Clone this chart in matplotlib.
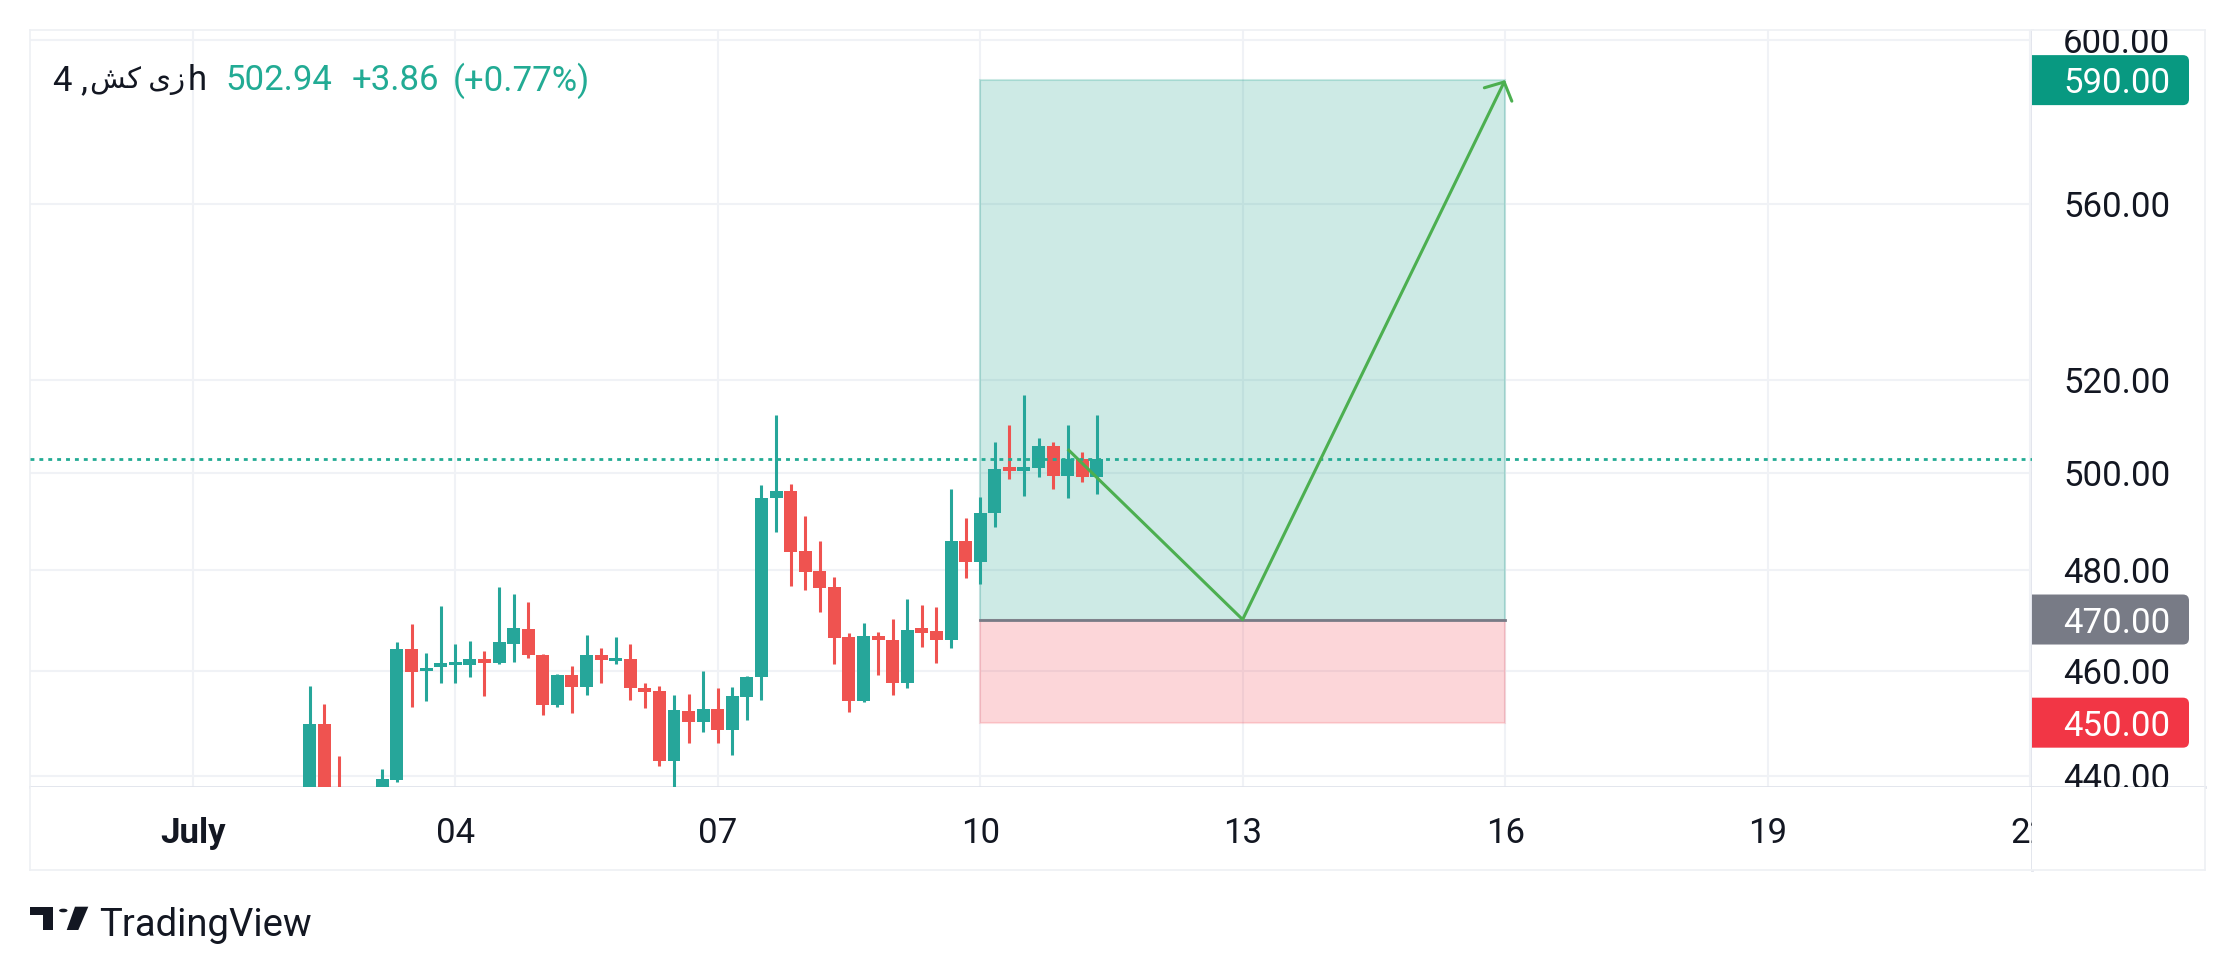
import matplotlib
matplotlib.use("Agg")
import matplotlib.pyplot as plt
import matplotlib.transforms as mtransforms
from matplotlib.patches import Rectangle, FancyBboxPatch, Polygon, Circle
import numpy as np

plt.rcParams['font.family'] = ['Roboto', 'DejaVu Sans']

# 4h candles, index 0 = first bar in view (first ones run below the visible range)
opens = [430.0, 449.8, 436.0, 432.0, 430.0, 436.0, 439.3, 464.1, 459.9, 460.6,
         461.1, 461.0, 462.3, 461.5, 465.2, 468.2, 463.1, 453.3, 459.2, 456.8,
         463.1, 461.9, 462.3, 456.7, 456.1, 442.7, 452.3, 450.2, 452.6, 448.6,
         454.9, 458.7, 494.7, 496.2, 483.7, 479.8, 476.4, 466.5, 454.1, 466.7,
         466.0, 457.5, 468.4, 467.8, 466.0, 485.8, 481.6, 491.5, 501.3, 500.3,
         501.1, 505.7, 499.4, 502.8, 499.1]
highs = [457.1, 453.6, 443.7, 435.0, 436.0, 441.3, 465.6, 469.2, 463.5, 472.6,
         465.2, 465.7, 463.9, 476.4, 475.0, 473.4, 463.3, 459.4, 460.8, 467.0,
         464.3, 466.6, 465.2, 457.5, 457.1, 455.2, 455.4, 460.0, 456.7, 456.9,
         458.9, 497.4, 512.4, 497.6, 490.9, 485.8, 478.6, 467.3, 469.4, 467.5,
         470.2, 474.0, 472.9, 472.5, 496.6, 490.6, 494.9, 506.5, 510.2, 516.7,
         507.4, 506.6, 510.2, 504.3, 512.4]
lows = [425.0, 428.0, 428.0, 426.0, 427.0, 434.0, 438.8, 452.9, 454.1, 457.6,
        457.6, 458.8, 455.0, 461.3, 461.7, 462.5, 451.5, 452.9, 451.9, 455.2,
        457.6, 461.2, 454.3, 452.7, 441.9, 437.0, 446.2, 448.3, 446.2, 444.0,
        450.5, 454.4, 487.7, 476.7, 475.9, 471.5, 461.2, 452.0, 454.0, 459.2,
        455.2, 456.6, 464.5, 461.4, 464.3, 478.2, 477.0, 488.6, 498.7, 495.1,
        499.0, 496.6, 494.7, 498.1, 495.5]
closes = [449.8, 432.0, 432.0, 430.0, 434.0, 439.4, 464.1, 459.8, 460.4, 461.4,
          461.7, 462.3, 461.5, 465.5, 468.4, 463.1, 453.3, 459.2, 456.8, 463.1,
          462.0, 462.2, 456.6, 455.9, 442.7, 452.5, 450.2, 452.6, 448.6, 455.0,
          458.8, 494.7, 496.2, 483.5, 479.6, 476.2, 466.3, 454.1, 466.7, 465.9,
          457.5, 468.0, 467.4, 466.0, 485.8, 481.5, 491.6, 500.8, 500.3, 501.2,
          505.7, 499.4, 502.8, 499.1, 502.94]

last_price = 502.94
change = 3.86
change_pct = 0.77

# time axis labels, placed at bar index
day_ticks = [-8, 10, 28, 46, 64, 82, 100, 118]
day_labels = ['July', '04', '07', '10', '13', '16', '19', '22']

price_ticks = [440, 460, 480, 500, 520, 560, 600]

# long position tool
pos_start, pos_end = 46, 82
entry_price, target_price, stop_price = 470.0, 590.0, 450.0
# projected path drawn on the chart
path_x = [52, 64, 82]
path_y = [505.0, 470.0, 590.0]

UP = '#26a69a'
DOWN = '#ef5350'
GRID = '#f0f2f6'
BORDER = '#e0e3eb'
TXT = '#131722'

W, H = 2235, 975
fig = plt.figure(figsize=(W / 100, H / 100), dpi=100)
fig.patch.set_facecolor('white')


def frac(x0, y0, x1, y1):
    # pixel box (from top-left) -> figure fraction rect
    return [x0 / W, 1 - y1 / H, (x1 - x0) / W, (y1 - y0) / H]


ax = fig.add_axes(frac(30, 30, 2032, 787))
pax = fig.add_axes(frac(2032, 30, 2205, 787))
tax = fig.add_axes(frac(30, 787, 2032, 870), sharex=ax)
cax = fig.add_axes(frac(2032, 787, 2205, 870))

ylo, yhi = 437.96, 602.6
for a in (ax, pax):
    a.set_yscale('log')
    a.set_ylim(ylo, yhi)
ax.set_xlim(-19.17, 118.14)
pax.set_xlim(0, 1)
tax.set_ylim(0, 1)
cax.set_xlim(0, 1)
cax.set_ylim(0, 1)

for a in (ax, pax, tax, cax):
    a.tick_params(which='both', left=False, bottom=False, right=False, top=False,
                  labelleft=False, labelbottom=False)
    for s in a.spines.values():
        s.set_color('#eef0f4')
        s.set_linewidth(1.2)
ax.spines['right'].set_color(BORDER)
ax.spines['right'].set_linewidth(2)
ax.spines['bottom'].set_color(BORDER)
ax.spines['bottom'].set_linewidth(2)
pax.spines['left'].set_visible(False)
pax.spines['bottom'].set_color(BORDER)
pax.spines['bottom'].set_linewidth(2)
tax.spines['top'].set_visible(False)
tax.spines['right'].set_color(BORDER)
tax.spines['right'].set_linewidth(2)
cax.spines['top'].set_visible(False)
cax.spines['left'].set_visible(False)

# grid
for p in price_ticks:
    ax.axhline(p, color=GRID, lw=1.5, zorder=0)
for d in day_ticks:
    ax.axvline(d, color=GRID, lw=1.5, zorder=0)

# long position boxes
ax.add_patch(Rectangle((pos_start, entry_price), pos_end - pos_start, target_price - entry_price,
                       facecolor=(8 / 255, 153 / 255, 129 / 255, 0.2),
                       edgecolor=(8 / 255, 153 / 255, 129 / 255, 0.2), lw=1.5, zorder=1))
ax.add_patch(Rectangle((pos_start, stop_price), pos_end - pos_start, entry_price - stop_price,
                       facecolor=(242 / 255, 54 / 255, 69 / 255, 0.2),
                       edgecolor=(242 / 255, 54 / 255, 69 / 255, 0.15), lw=1.5, zorder=1))
ax.plot([pos_start, pos_end], [entry_price, entry_price], color='#787b86', lw=2, zorder=2)

# candles
idx = np.arange(len(opens))
o = np.array(opens)
c = np.array(closes)
colors = [UP if cc >= oo else DOWN for oo, cc in zip(o, c)]
ax.vlines(idx, lows, highs, colors=colors, lw=2.2, zorder=3)
bottoms = np.minimum(o, c)
heights = np.maximum(np.abs(c - o), 0.6)
ax.bar(idx, heights, bottom=bottoms, width=0.89, color=colors, zorder=3)

# last price line
ax.axhline(last_price, color='#22ab94', lw=2, dashes=(1.4, 1.8), zorder=4)

# projected path with arrow
ax.plot(path_x[:2], path_y[:2], color='#4caf50', lw=2.2, zorder=5, solid_capstyle='butt')
ax.annotate('', xy=(path_x[2], path_y[2]), xytext=(path_x[1], path_y[1]),
            arrowprops=dict(arrowstyle='->,head_length=1.0,head_width=1.1',
                            color='#4caf50', lw=2.2, shrinkA=0, shrinkB=0),
            annotation_clip=False, zorder=5)

# price scale
ptrans = mtransforms.blended_transform_factory(pax.transAxes, pax.transData)
for p in price_ticks:
    pax.text(0.80, p, f"{p:.2f}", transform=ptrans, ha='right', va='center_baseline',
             fontsize=25, color=TXT, clip_on=True)

lo_l, hi_l = np.log(ylo), np.log(yhi)
bh = 50 / 757
for p, col in [(target_price, '#089981'), (entry_price, '#787b86'), (stop_price, '#f23645')]:
    yc = (np.log(p) - lo_l) / (hi_l - lo_l)
    box = FancyBboxPatch((-0.05, yc - bh / 2), 0.9575, bh,
                         boxstyle='round,pad=0,rounding_size=0.035',
                         mutation_aspect=173 / 757, transform=pax.transAxes,
                         facecolor=col, edgecolor='none', clip_on=True, zorder=3)
    pax.add_patch(box)
    pax.text(0.80, p, f"{p:.2f}", transform=ptrans, ha='right', va='center_baseline',
             fontsize=25, color='white', clip_on=True, zorder=4)

# time scale
ttrans = mtransforms.blended_transform_factory(tax.transData, tax.transAxes)
for d, lab in zip(day_ticks, day_labels):
    tax.text(d, 0.482, lab, transform=ttrans, ha='center', va='center_baseline',
             fontsize=25, color=TXT, clip_on=True,
             fontweight='bold' if lab == 'July' else 'normal')

# legend line (symbol name in Persian, written in visual order with presentation forms)
ty = 1 - 77 / H
fig.text(53 / W, ty, "4 ,", fontsize=25, color=TXT, va='center_baseline', ha='left')
fig.text(138 / W, ty, "\ufeb6\ufb90 \ufbfc\ufeaf", fontsize=21, color=TXT,
         va='center_baseline', ha='center')
fig.text(188 / W, ty, "h", fontsize=25, color=TXT, va='center_baseline', ha='left')
fig.text(225 / W, ty, f"{last_price:.2f}", fontsize=25, color='#22ab94',
         va='center_baseline', ha='left')
fig.text(352 / W, ty, f"+{change:.2f}", fontsize=25, color='#22ab94',
         va='center_baseline', ha='left')
fig.text(453 / W, ty, f"(+{change_pct:.2f}%)", fontsize=25, color='#22ab94',
         va='center_baseline', ha='left')


# TradingView logo
def fp(x, y):
    return (x / W, 1 - y / H)


fig.patches.append(Polygon([fp(30, 906.7), fp(53.3, 906.7), fp(53.3, 930), fp(43.3, 930),
                            fp(43.3, 915), fp(30, 915)],
                           closed=True, transform=fig.transFigure, facecolor=TXT, edgecolor='none'))
fig.patches.append(Circle(fp(63.3, 910.5), 4.2 / W, transform=fig.transFigure,
                          facecolor=TXT, edgecolor='none'))
fig.patches.append(Polygon([fp(75, 906.7), fp(88.3, 906.7), fp(78.3, 930), fp(66.7, 930)],
                           closed=True, transform=fig.transFigure, facecolor=TXT, edgecolor='none'))
fig.text(99 / W, 1 - 922 / H, "TradingView", fontsize=27.5, color=TXT,
         va='center_baseline', ha='left')

fig.savefig('out.png', dpi=100, facecolor='white')
